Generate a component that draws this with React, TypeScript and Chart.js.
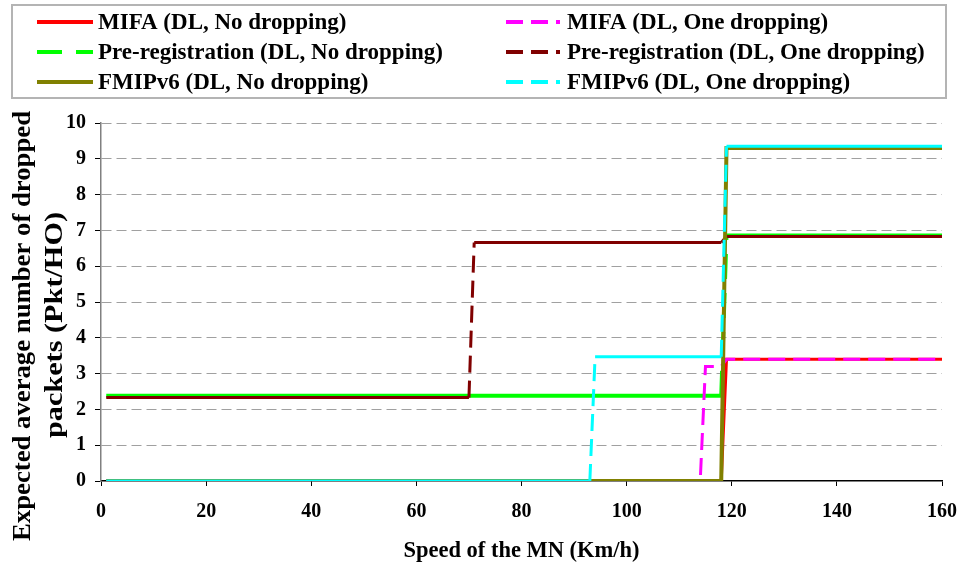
import { useEffect, useRef } from 'react';
import { Chart, registerables } from 'chart.js';

Chart.register(...registerables);

const SERIF = "'Liberation Serif', 'Times New Roman', serif";

// Speed of the MN (km/h) at each breakpoint, and expected dropped packets per HO
const mifaNoDropSpeed = [1, 118, 119, 160];
const mifaNoDropPkts = [0, 0, 3.4, 3.4];

const mifaOneDropSpeed = [1, 114, 115, 118, 119, 160];
const mifaOneDropPkts = [0, 0, 3.2, 3.2, 3.4, 3.4];

const preRegNoDropSpeed = [1, 118, 119, 160];
const preRegNoDropPkts = [2.38, 2.38, 6.86, 6.86];

const preRegOneDropSpeed = [1, 70, 71, 118, 119, 160];
const preRegOneDropPkts = [2.33, 2.33, 6.66, 6.66, 6.83, 6.83];

const fmipNoDropSpeed = [1, 118, 119, 160];
const fmipNoDropPkts = [0, 0, 9.3, 9.3];

const fmipOneDropSpeed = [1, 93, 94, 118, 119, 160];
const fmipOneDropPkts = [0, 0, 3.47, 3.47, 9.35, 9.35];

const speedTicks = [0, 20, 40, 60, 80, 100, 120, 140, 160];
const packetTicks = [0, 1, 2, 3, 4, 5, 6, 7, 8, 9, 10];

const xTitle = 'Speed of the MN (Km/h)';
const yTitle = ['Expected average number of dropped', 'packets (Pkt/HO)'];

type Series = {
  label: string;
  speed: number[];
  pkts: number[];
  color: string;
  width: number;
  dash: number[] | null;
  dashFlat: boolean;
  order: number;
};

// Legend reads row by row: left column "No dropping", right column "One dropping"
const series: Series[] = [
  { label: 'MIFA (DL, No dropping)', speed: mifaNoDropSpeed, pkts: mifaNoDropPkts, color: '#ff0000', width: 3, dash: null, dashFlat: false, order: 3 },
  { label: 'MIFA (DL, One dropping)', speed: mifaOneDropSpeed, pkts: mifaOneDropPkts, color: '#ff00ff', width: 3, dash: [17, 8], dashFlat: true, order: 2 },
  { label: 'Pre-registration (DL, No dropping)', speed: preRegNoDropSpeed, pkts: preRegNoDropPkts, color: '#00ff00', width: 4, dash: [25, 14], dashFlat: false, order: 5 },
  { label: 'Pre-registration (DL, One dropping)', speed: preRegOneDropSpeed, pkts: preRegOneDropPkts, color: '#800000', width: 3, dash: [17, 8], dashFlat: false, order: 4 },
  { label: 'FMIPv6 (DL, No dropping)', speed: fmipNoDropSpeed, pkts: fmipNoDropPkts, color: '#808000', width: 4, dash: null, dashFlat: false, order: 1 },
  { label: 'FMIPv6 (DL, One dropping)', speed: fmipOneDropSpeed, pkts: fmipOneDropPkts, color: '#00ffff', width: 3, dash: [17, 8], dashFlat: false, order: 0 },
];

// Boxed two-column legend drawn above the plot
const boxLegend = {
  id: 'boxLegend',
  afterDraw(chart: Chart) {
    const ctx = chart.ctx;
    ctx.save();
    ctx.strokeStyle = '#b4b4b4';
    ctx.lineWidth = 2;
    ctx.strokeRect(12, 5, 934, 93);

    const rowsY = [22, 52, 82];
    const sampleX = [[37, 93], [506, 560]];
    const textX = [98, 567];
    ctx.font = `bold 23px ${SERIF}`;
    ctx.textBaseline = 'middle';
    ctx.textAlign = 'left';
    series.forEach((s, i) => {
      const col = i % 2;
      const y = rowsY[Math.floor(i / 2)];
      ctx.beginPath();
      ctx.setLineDash(s.dash || []);
      ctx.strokeStyle = s.color;
      ctx.lineWidth = 4;
      ctx.moveTo(sampleX[col][0], y);
      ctx.lineTo(sampleX[col][1], y);
      ctx.stroke();
      ctx.setLineDash([]);
      ctx.fillStyle = '#000';
      ctx.fillText(s.label, textX[col], y + 1);
    });
    ctx.restore();
  },
};

// Two-line rotated y-axis title, each line stretched to its set length
const yAxisTitle = {
  id: 'yAxisTitle',
  afterDraw(chart: Chart) {
    const ctx = chart.ctx;
    ctx.save();
    ctx.font = `bold 26px ${SERIF}`;
    ctx.fillStyle = '#000';
    ctx.textAlign = 'center';
    ctx.textBaseline = 'middle';
    const xs = [23, 55];
    const centers = [326, 325];
    const lengths = [430, 226];
    yTitle.forEach((line, i) => {
      const w = ctx.measureText(line).width;
      ctx.save();
      ctx.translate(xs[i], centers[i]);
      ctx.rotate(-Math.PI / 2);
      ctx.scale(lengths[i] / w, 1);
      ctx.fillText(line, 0, 0);
      ctx.restore();
    });
    ctx.restore();
  },
};

export default function App() {
  const canvasRef = useRef<HTMLCanvasElement | null>(null);

  useEffect(() => {
    const canvas = canvasRef.current;
    if (!canvas) return;

    const datasets = series.map((s) => ({
      label: s.label,
      data: s.speed.map((x, i) => ({ x, y: s.pkts[i] })),
      borderColor: s.color,
      backgroundColor: s.color,
      borderWidth: s.width,
      pointRadius: 0,
      pointHoverRadius: 0,
      tension: 0,
      fill: false,
      order: s.order,
      borderCapStyle: 'butt' as const,
      borderJoinStyle: 'miter' as const,
      segment: {
        borderDash: (ctx: any) =>
          s.dash && (s.dashFlat || Math.abs(ctx.p0.y - ctx.p1.y) > 0.5) ? s.dash : [],
      },
    }));

    const chart = new Chart(canvas, {
      type: 'line',
      data: { datasets },
      plugins: [boxLegend, yAxisTitle],
      options: {
        responsive: false,
        animation: false,
        events: [],
        layout: { padding: { top: 123, right: 17, left: 0, bottom: 0 } },
        plugins: {
          legend: { display: false },
          tooltip: { enabled: false },
          title: { display: false },
        },
        scales: {
          x: {
            type: 'linear',
            min: 0,
            max: 160,
            afterBuildTicks: (scale: any) => {
              scale.ticks = speedTicks.map((v) => ({ value: v }));
            },
            afterFit: (scale: any) => {
              scale.height = 86;
              scale.paddingLeft = 0;
              scale.paddingRight = 0;
            },
            grid: {
              display: true,
              drawOnChartArea: false,
              drawTicks: true,
              tickLength: 5,
              tickColor: '#000',
              tickWidth: 1,
            },
            border: { display: true, color: '#000', width: 1.5 },
            ticks: {
              color: '#000',
              padding: 14,
              maxRotation: 0,
              font: { family: SERIF, size: 20, weight: 'bold' },
            },
            title: {
              display: true,
              text: xTitle,
              color: '#000',
              padding: { top: 0, bottom: 2 },
              font: { family: SERIF, size: 22.5, weight: 'bold' },
            },
          },
          y: {
            type: 'linear',
            min: 0,
            max: 10,
            afterBuildTicks: (scale: any) => {
              scale.ticks = packetTicks.map((v) => ({ value: v }));
            },
            afterFit: (scale: any) => {
              scale.width = 101;
              scale.paddingTop = 0;
              scale.paddingBottom = 0;
            },
            grid: {
              display: true,
              drawOnChartArea: true,
              drawTicks: true,
              tickLength: 6,
              tickColor: '#000',
              lineWidth: 1,
              color: (ctx: any) => (ctx.tick && ctx.tick.value === 0 ? 'rgba(0,0,0,0)' : '#a0a0a0'),
            },
            border: { display: true, color: '#808080', width: 1.5, dash: [10, 5] },
            ticks: {
              color: '#000',
              padding: 9,
              font: { family: SERIF, size: 20, weight: 'bold' },
            },
            title: { display: false },
          },
        },
      },
    });

    return () => chart.destroy();
  }, []);

  return (
    <div style={{ position: 'fixed', left: 0, top: 0, width: 959, height: 567, background: '#fff' }}>
      <canvas ref={canvasRef} width={959} height={567} style={{ display: 'block' }} />
    </div>
  );
}
